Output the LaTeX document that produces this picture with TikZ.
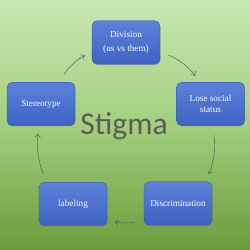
\documentclass[tikz,border=0pt]{standalone}
\usepackage{fontspec}
\setmainfont{Liberation Serif}
\newfontfamily\stigmafont{Carlito}
\usetikzlibrary{arrows.meta,shadows}
\definecolor{bgtop}{HTML}{C8E8B2}
\definecolor{bgmid}{HTML}{A3CF7E}
\definecolor{bgbot}{HTML}{6B9C3C}
\definecolor{boxtop}{HTML}{5C82DA}
\definecolor{boxbot}{HTML}{3D62C2}
\definecolor{boxline}{HTML}{30519F}
\definecolor{arrowgray}{HTML}{46555F}
\definecolor{stigmagray}{HTML}{5A5E5A}

\begin{document}
\begin{tikzpicture}[>=Latex,
 b/.style={rounded corners=6pt,draw=boxline,top color=boxtop,bottom color=boxbot,
   minimum width=2.72cm,minimum height=1.74cm,align=center,text=white,
   font=\fontsize{10.5}{12}\selectfont,inner sep=2pt,
   drop shadow={opacity=0.35,shadow xshift=0.6pt,shadow yshift=-0.9pt}},
 a/.style={-{Straight Barb[length=1.3mm,width=2.2mm]},line width=0.5pt,arrowgray,
   shorten <=0.36cm,shorten >=0.32cm,bend left=15}]
\shade[top color=bgtop,bottom color=bgbot,middle color=bgmid] (0,0) rectangle (10,10);
\node[b] (div) at (5.04,8.30) {Division\\[3.5pt](us vs them)};
\node[b] (lose) at (8.42,5.84) {Lose social\\status};
\node[b] (disc) at (7.12,1.86) {Discrimination};
\node[b] (lab) at (2.92,1.84) {labeling};
\node[b] (ster) at (1.64,5.84) {Stereotype};
\node[anchor=base,text=stigmagray,font=\stigmafont\fontsize{36}{40}\selectfont]
  (stig) at (4.96,4.60) {Stigma};
\draw[a] (div.-15) to (lose.115);
\draw[a] (lose.-85) to (disc.38);
\draw[a] (disc.205) to (lab.-25);
\draw[a] (lab.140) to (ster.-95);
\draw[a] (ster.50) to (div.195);
\end{tikzpicture}
\end{document}
